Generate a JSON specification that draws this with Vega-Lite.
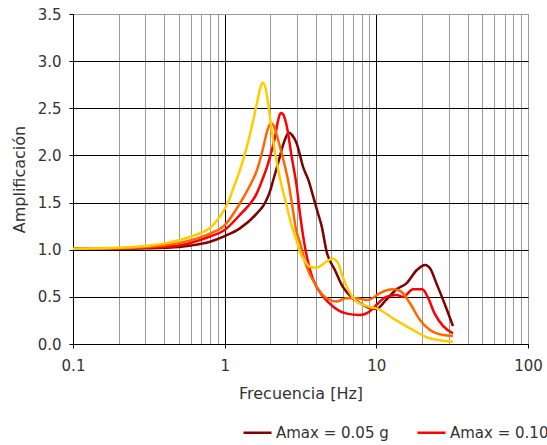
{
  "$schema": "https://vega.github.io/schema/vega-lite/v6.json",
  "width": 455,
  "height": 330,
  "autosize": {"type": "none"},
  "padding": {"left": 73, "top": 14, "right": 19, "bottom": 101},
  "background": "white",
  "config": {
    "view": {"stroke": "#999", "strokeWidth": 1},
    "font": "DejaVu Sans",
    "axis": {"labelFont": "DejaVu Sans", "titleFont": "DejaVu Sans", "labelColor": "#333", "titleColor": "#333", "titleFontWeight": "normal", "labelFontSize": 15, "titleFontSize": 16}
  },
  "datasets": {
    "curves": [
      {"s": "Amax = 0.05 g", "f": 0.1, "a": 1.01}, {"s": "Amax = 0.05 g", "f": 0.2, "a": 1.01}, {"s": "Amax = 0.05 g", "f": 0.3, "a": 1.015}, {"s": "Amax = 0.05 g", "f": 0.5, "a": 1.03}, {"s": "Amax = 0.05 g", "f": 0.6, "a": 1.045}, {"s": "Amax = 0.05 g", "f": 0.8, "a": 1.085}, {"s": "Amax = 0.05 g", "f": 1.0, "a": 1.145}, {"s": "Amax = 0.05 g", "f": 1.26, "a": 1.226}, {"s": "Amax = 0.05 g", "f": 1.63, "a": 1.386}, {"s": "Amax = 0.05 g", "f": 1.85, "a": 1.5}, {"s": "Amax = 0.05 g", "f": 2.0, "a": 1.63}, {"s": "Amax = 0.05 g", "f": 2.1, "a": 1.75}, {"s": "Amax = 0.05 g", "f": 2.26, "a": 1.93}, {"s": "Amax = 0.05 g", "f": 2.45, "a": 2.13}, {"s": "Amax = 0.05 g", "f": 2.65, "a": 2.24}, {"s": "Amax = 0.05 g", "f": 2.8, "a": 2.21}, {"s": "Amax = 0.05 g", "f": 2.98, "a": 2.13}, {"s": "Amax = 0.05 g", "f": 3.3, "a": 1.87}, {"s": "Amax = 0.05 g", "f": 3.6, "a": 1.72}, {"s": "Amax = 0.05 g", "f": 3.84, "a": 1.56}, {"s": "Amax = 0.05 g", "f": 4.1, "a": 1.4}, {"s": "Amax = 0.05 g", "f": 4.36, "a": 1.25}, {"s": "Amax = 0.05 g", "f": 4.7, "a": 0.98}, {"s": "Amax = 0.05 g", "f": 5.33, "a": 0.785}, {"s": "Amax = 0.05 g", "f": 6.0, "a": 0.608}, {"s": "Amax = 0.05 g", "f": 7.0, "a": 0.485}, {"s": "Amax = 0.05 g", "f": 8.2, "a": 0.414}, {"s": "Amax = 0.05 g", "f": 9.1, "a": 0.38}, {"s": "Amax = 0.05 g", "f": 10, "a": 0.37}, {"s": "Amax = 0.05 g", "f": 11.6, "a": 0.467}, {"s": "Amax = 0.05 g", "f": 13.6, "a": 0.58}, {"s": "Amax = 0.05 g", "f": 15.8, "a": 0.643}, {"s": "Amax = 0.05 g", "f": 18.5, "a": 0.785}, {"s": "Amax = 0.05 g", "f": 21, "a": 0.838}, {"s": "Amax = 0.05 g", "f": 22.6, "a": 0.803}, {"s": "Amax = 0.05 g", "f": 24.9, "a": 0.643}, {"s": "Amax = 0.05 g", "f": 28.4, "a": 0.414}, {"s": "Amax = 0.05 g", "f": 32, "a": 0.19},

      {"s": "Amax = 0.10 g", "f": 0.1, "a": 1.01}, {"s": "Amax = 0.10 g", "f": 0.2, "a": 1.012}, {"s": "Amax = 0.10 g", "f": 0.3, "a": 1.02}, {"s": "Amax = 0.10 g", "f": 0.5, "a": 1.045}, {"s": "Amax = 0.10 g", "f": 0.6, "a": 1.074}, {"s": "Amax = 0.10 g", "f": 0.8, "a": 1.14}, {"s": "Amax = 0.10 g", "f": 1.0, "a": 1.21}, {"s": "Amax = 0.10 g", "f": 1.26, "a": 1.37}, {"s": "Amax = 0.10 g", "f": 1.63, "a": 1.6}, {"s": "Amax = 0.10 g", "f": 1.75, "a": 1.72}, {"s": "Amax = 0.10 g", "f": 1.94, "a": 1.92}, {"s": "Amax = 0.10 g", "f": 2.15, "a": 2.2}, {"s": "Amax = 0.10 g", "f": 2.25, "a": 2.37}, {"s": "Amax = 0.10 g", "f": 2.34, "a": 2.45}, {"s": "Amax = 0.10 g", "f": 2.42, "a": 2.44}, {"s": "Amax = 0.10 g", "f": 2.56, "a": 2.32}, {"s": "Amax = 0.10 g", "f": 2.77, "a": 1.98}, {"s": "Amax = 0.10 g", "f": 2.98, "a": 1.68}, {"s": "Amax = 0.10 g", "f": 3.15, "a": 1.36}, {"s": "Amax = 0.10 g", "f": 3.35, "a": 1.07}, {"s": "Amax = 0.10 g", "f": 3.65, "a": 0.79}, {"s": "Amax = 0.10 g", "f": 3.84, "a": 0.68}, {"s": "Amax = 0.10 g", "f": 4.47, "a": 0.5}, {"s": "Amax = 0.10 g", "f": 5.2, "a": 0.396}, {"s": "Amax = 0.10 g", "f": 6.3, "a": 0.325}, {"s": "Amax = 0.10 g", "f": 7.8, "a": 0.307}, {"s": "Amax = 0.10 g", "f": 9.1, "a": 0.35}, {"s": "Amax = 0.10 g", "f": 10, "a": 0.414}, {"s": "Amax = 0.10 g", "f": 11.6, "a": 0.5}, {"s": "Amax = 0.10 g", "f": 13.6, "a": 0.52}, {"s": "Amax = 0.10 g", "f": 15.0, "a": 0.5}, {"s": "Amax = 0.10 g", "f": 17.5, "a": 0.58}, {"s": "Amax = 0.10 g", "f": 20.1, "a": 0.58}, {"s": "Amax = 0.10 g", "f": 21.8, "a": 0.5}, {"s": "Amax = 0.10 g", "f": 24.2, "a": 0.325}, {"s": "Amax = 0.10 g", "f": 27.6, "a": 0.19}, {"s": "Amax = 0.10 g", "f": 32, "a": 0.113},

      {"s": "Amax = 0.15 g", "f": 0.1, "a": 1.01}, {"s": "Amax = 0.15 g", "f": 0.2, "a": 1.015}, {"s": "Amax = 0.15 g", "f": 0.3, "a": 1.03}, {"s": "Amax = 0.15 g", "f": 0.41, "a": 1.05}, {"s": "Amax = 0.15 g", "f": 0.5, "a": 1.07}, {"s": "Amax = 0.15 g", "f": 0.6, "a": 1.1}, {"s": "Amax = 0.15 g", "f": 0.8, "a": 1.17}, {"s": "Amax = 0.15 g", "f": 1.0, "a": 1.26}, {"s": "Amax = 0.15 g", "f": 1.26, "a": 1.49}, {"s": "Amax = 0.15 g", "f": 1.51, "a": 1.72}, {"s": "Amax = 0.15 g", "f": 1.63, "a": 1.84}, {"s": "Amax = 0.15 g", "f": 1.8, "a": 2.09}, {"s": "Amax = 0.15 g", "f": 1.9, "a": 2.25}, {"s": "Amax = 0.15 g", "f": 2.02, "a": 2.34}, {"s": "Amax = 0.15 g", "f": 2.1, "a": 2.32}, {"s": "Amax = 0.15 g", "f": 2.22, "a": 2.2}, {"s": "Amax = 0.15 g", "f": 2.44, "a": 1.95}, {"s": "Amax = 0.15 g", "f": 2.63, "a": 1.72}, {"s": "Amax = 0.15 g", "f": 2.8, "a": 1.45}, {"s": "Amax = 0.15 g", "f": 2.95, "a": 1.22}, {"s": "Amax = 0.15 g", "f": 3.13, "a": 1.08}, {"s": "Amax = 0.15 g", "f": 3.47, "a": 0.82}, {"s": "Amax = 0.15 g", "f": 4.04, "a": 0.608}, {"s": "Amax = 0.15 g", "f": 4.7, "a": 0.485}, {"s": "Amax = 0.15 g", "f": 5.5, "a": 0.45}, {"s": "Amax = 0.15 g", "f": 6.3, "a": 0.485}, {"s": "Amax = 0.15 g", "f": 7.4, "a": 0.485}, {"s": "Amax = 0.15 g", "f": 8.6, "a": 0.467}, {"s": "Amax = 0.15 g", "f": 9.1, "a": 0.473}, {"s": "Amax = 0.15 g", "f": 10.5, "a": 0.537}, {"s": "Amax = 0.15 g", "f": 12.9, "a": 0.58}, {"s": "Amax = 0.15 g", "f": 14.3, "a": 0.565}, {"s": "Amax = 0.15 g", "f": 16.7, "a": 0.43}, {"s": "Amax = 0.15 g", "f": 19.4, "a": 0.254}, {"s": "Amax = 0.15 g", "f": 22.6, "a": 0.148}, {"s": "Amax = 0.15 g", "f": 27.6, "a": 0.095}, {"s": "Amax = 0.15 g", "f": 32, "a": 0.085},

      {"s": "Amax = 0.20 g", "f": 0.1, "a": 1.01}, {"s": "Amax = 0.20 g", "f": 0.2, "a": 1.02}, {"s": "Amax = 0.20 g", "f": 0.3, "a": 1.04}, {"s": "Amax = 0.20 g", "f": 0.41, "a": 1.07}, {"s": "Amax = 0.20 g", "f": 0.5, "a": 1.1}, {"s": "Amax = 0.20 g", "f": 0.6, "a": 1.14}, {"s": "Amax = 0.20 g", "f": 0.7, "a": 1.18}, {"s": "Amax = 0.20 g", "f": 0.8, "a": 1.23}, {"s": "Amax = 0.20 g", "f": 0.9, "a": 1.32}, {"s": "Amax = 0.20 g", "f": 1.0, "a": 1.43}, {"s": "Amax = 0.20 g", "f": 1.07, "a": 1.53}, {"s": "Amax = 0.20 g", "f": 1.14, "a": 1.65}, {"s": "Amax = 0.20 g", "f": 1.26, "a": 1.845}, {"s": "Amax = 0.20 g", "f": 1.4, "a": 2.09}, {"s": "Amax = 0.20 g", "f": 1.544, "a": 2.375}, {"s": "Amax = 0.20 g", "f": 1.665, "a": 2.62}, {"s": "Amax = 0.20 g", "f": 1.72, "a": 2.72}, {"s": "Amax = 0.20 g", "f": 1.78, "a": 2.77}, {"s": "Amax = 0.20 g", "f": 1.84, "a": 2.74}, {"s": "Amax = 0.20 g", "f": 1.92, "a": 2.59}, {"s": "Amax = 0.20 g", "f": 2.0, "a": 2.375}, {"s": "Amax = 0.20 g", "f": 2.15, "a": 2.03}, {"s": "Amax = 0.20 g", "f": 2.3, "a": 1.78}, {"s": "Amax = 0.20 g", "f": 2.56, "a": 1.47}, {"s": "Amax = 0.20 g", "f": 2.77, "a": 1.25}, {"s": "Amax = 0.20 g", "f": 2.98, "a": 1.1}, {"s": "Amax = 0.20 g", "f": 3.13, "a": 0.98}, {"s": "Amax = 0.20 g", "f": 3.38, "a": 0.88}, {"s": "Amax = 0.20 g", "f": 3.65, "a": 0.82}, {"s": "Amax = 0.20 g", "f": 4.04, "a": 0.81}, {"s": "Amax = 0.20 g", "f": 4.4, "a": 0.84}, {"s": "Amax = 0.20 g", "f": 4.7, "a": 0.875}, {"s": "Amax = 0.20 g", "f": 5.15, "a": 0.905}, {"s": "Amax = 0.20 g", "f": 5.61, "a": 0.856}, {"s": "Amax = 0.20 g", "f": 6.0, "a": 0.714}, {"s": "Amax = 0.20 g", "f": 6.53, "a": 0.573}, {"s": "Amax = 0.20 g", "f": 7.23, "a": 0.467}, {"s": "Amax = 0.20 g", "f": 8.2, "a": 0.414}, {"s": "Amax = 0.20 g", "f": 9.1, "a": 0.389}, {"s": "Amax = 0.20 g", "f": 10, "a": 0.378}, {"s": "Amax = 0.20 g", "f": 12.9, "a": 0.272}, {"s": "Amax = 0.20 g", "f": 16.7, "a": 0.166}, {"s": "Amax = 0.20 g", "f": 21.5, "a": 0.071}, {"s": "Amax = 0.20 g", "f": 27.6, "a": 0.035}, {"s": "Amax = 0.20 g", "f": 32, "a": 0.024}
    ]
  },
  "data": {"name": "curves"},
  "mark": {"type": "line", "interpolate": "monotone", "strokeWidth": 2.5, "clip": true},
  "encoding": {
    "x": {
      "field": "f", "type": "quantitative",
      "scale": {"type": "log", "domain": [0.1, 100], "nice": false},
      "axis": {
        "title": "Frecuencia [Hz]",
        "values": [0.1, 0.2, 0.3, 0.4, 0.5, 0.6, 0.7, 0.8, 0.9, 1, 2, 3, 4, 5, 6, 7, 8, 9, 10, 20, 30, 40, 50, 60, 70, 80, 90, 100],
        "labelExpr": "(datum.value == 0.1 || datum.value == 1 || datum.value == 10 || datum.value == 100) ? datum.label : ''",
        "format": "~g",
        "grid": true,
        "gridColor": {"condition": {"test": "datum.value == 1 || datum.value == 10", "value": "#000000"}, "value": "#999999"},
        "gridWidth": 1,
        "tickColor": {"condition": {"test": "datum.value == 0.1 || datum.value == 1 || datum.value == 10 || datum.value == 100", "value": "#000000"}, "value": "transparent"},
        "tickSize": 4,
        "domainColor": "#000000",
        "labelPadding": 10,
        "labelFlush": false,
        "labelOverlap": false,
        "titlePadding": 12
      }
    },
    "y": {
      "field": "a", "type": "quantitative",
      "scale": {"domain": [0, 3.5], "nice": false},
      "axis": {
        "title": "Amplificación",
        "values": [0, 0.5, 1, 1.5, 2, 2.5, 3, 3.5],
        "format": ".1f",
        "grid": true,
        "gridColor": {"condition": {"test": "datum.value == 3.5", "value": "#999999"}, "value": "#000000"},
        "tickColor": "#000000",
        "tickSize": 4,
        "domainColor": "#000000",
        "labelPadding": 8,
        "labelFlush": false,
        "titlePadding": 10
      }
    },
    "color": {
      "field": "s", "type": "nominal",
      "scale": {"domain": ["Amax = 0.05 g", "Amax = 0.10 g", "Amax = 0.15 g", "Amax = 0.20 g"], "range": ["#800000", "#FF0000", "#FF6600", "#FFCC00"]},
      "legend": {
        "title": null,
        "orient": "none",
        "legendX": 169,
        "legendY": 403,
        "direction": "horizontal",
        "symbolType": "stroke",
        "symbolSize": 784,
        "symbolStrokeWidth": 2.5,
        "labelFont": "DejaVu Sans",
        "labelFontSize": 15,
        "labelColor": "#333",
        "labelOffset": 3,
        "columnPadding": 23,
        "padding": 0,
        "labelLimit": 300
      }
    }
  }
}
